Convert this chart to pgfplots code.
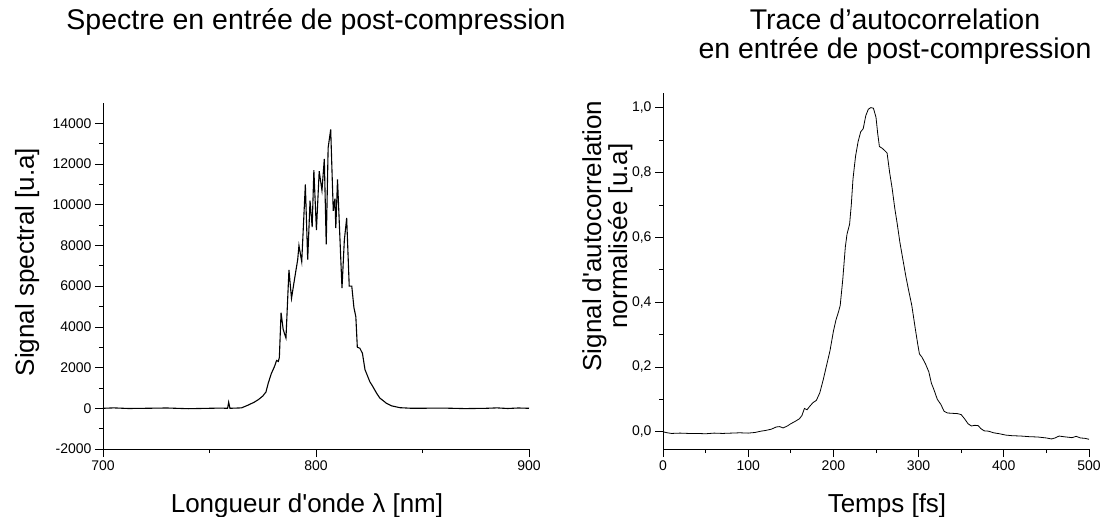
\documentclass[border=0pt]{standalone}
\usepackage{fontspec}
\setmainfont{Liberation Sans}
\usepackage{pgfplots}
\pgfplotsset{compat=1.18}

\pgfplotsset{
  refstyle/.style={
    scale only axis,
    axis lines=left,
    axis line style={-, line width=0.8pt},
    tick align=outside,
    major tick length=8pt,
    minor tick length=4pt,
    every tick/.style={black, line width=0.7pt},
    tick label style={font=\fontsize{14}{14}\selectfont},
    /pgf/number format/assume math mode=true,
    scaled ticks=false,
    label style={font=\fontsize{26}{26}\selectfont},
    title style={font=\fontsize{28.5}{29}\selectfont},
  }
}

\begin{document}
\begin{tikzpicture}[x=1pt,y=1pt]
\useasboundingbox (0,0) rectangle (1104,517);

% spectre
\begin{axis}[refstyle,
  at={(103pt,68pt)}, anchor=south west,
  width=426pt, height=346pt,
  xmin=700, xmax=900, ymin=-2000, ymax=15000,
  xtick={700,800,900}, minor xtick={750,850},
  ytick={-2000,0,2000,4000,6000,8000,10000,12000,14000},
  minor ytick={-1000,1000,3000,5000,7000,9000,11000,13000},
  yticklabel style={/pgf/number format/.cd, fixed, 1000 sep={}},
  xlabel={Longueur d\textquotesingle onde λ [nm]},
  xlabel style={at={([xshift=-9pt,yshift=-63pt]axis description cs:0.5,0)}, anchor=base},
  ylabel={Signal spectral [u.a]},
  ylabel style={at={([xshift=-69pt,yshift=14pt]axis description cs:0,0.5)}, anchor=base},
  title={Spectre en entrée de post-compression},
  title style={at={([yshift=67.7pt]axis description cs:0.5,1)}, anchor=base},
]
\addplot[black, line width=1.1pt] coordinates {
(700,0)(705,20)(712,-10)(720,0)(730,15)(740,-20)(750,0)(755,10)(758.5,0)(759,300)(759.6,0)
(765,20)(768,150)(771,300)(773,430)(775,600)(776.5,800)(777.6,1240)(779,1700)(780.5,2050)
(781.5,2350)(782.3,2300)(782.8,2500)(783.6,4700)(784.6,3870)(785.9,3450)(787.3,6800)
(788.5,5400)(790,6400)(791.4,7300)(792,8000)(793.3,7200)(795,11000)(796.1,7300)(797.2,10200)
(798.2,8900)(799,11700)(800.2,8750)(801.5,11650)(802.8,10700)(803.9,12250)(804.8,8050)
(805.7,12800)(806.9,13700)(808.1,9700)(808.9,10300)(809.3,8850)(810.1,11250)(812.2,5900)
(813.3,8250)(814.4,9350)(815.6,6000)(816.8,6000)(817.8,4950)(818.7,4500)(819.4,3000)
(820.6,2950)(821.8,2700)(823,1900)(825.3,1300)(826.5,1100)(828.4,750)(830,500)(831.6,370)
(833,250)(835.5,120)(839.4,30)(845,0)(860,10)(870,-15)(880,0)(885,20)(890,-10)(895,15)(900,0)
};
\end{axis}

% autocorrelation
\begin{axis}[refstyle,
  at={(663pt,68pt)}, anchor=south west,
  width=426pt, height=356pt,
  xmin=0, xmax=500, ymin=-0.053, ymax=1.045,
  xtick={0,100,200,300,400,500}, minor xtick={50,150,250,350,450},
  ytick={0,0.2,0.4,0.6,0.8,1.0}, minor ytick={0.1,0.3,0.5,0.7,0.9},
  yticklabel style={/pgf/number format/.cd, use comma, fixed, fixed zerofill, precision=1},
  xlabel={Temps [fs]},
  xlabel style={at={([xshift=11pt,yshift=-63pt]axis description cs:0.5,0)}, anchor=base},
  ylabel={Signal d\textquotesingle autocorrelation\\normalisée [u.a]},
  ylabel style={align=center, inner sep=0pt, at={([xshift=-81pt,yshift=35pt]axis description cs:0,0.5)}, anchor=north},
  title={Trace d’autocorrelation\\en entrée de post-compression},
  title style={align=center, inner sep=0pt, at={([xshift=19pt,yshift=78pt]axis description cs:0.5,1)}, anchor=north},
]
\addplot[black, line width=0.8pt] coordinates {
(0,0.0)(5,-0.003)(10,-0.005)(20,-0.004)(30,-0.005)(40,-0.005)(50,-0.006)(60,-0.004)(70,-0.005)
(80,-0.004)(90,-0.003)(100,-0.004)(108,-0.002)(115,0.002)(120,0.004)(127,0.008)(133,0.015)
(137,0.016)(141,0.012)(146,0.018)(150,0.025)(155,0.032)(160,0.04)(163,0.05)(166,0.072)
(169,0.068)(172,0.078)(176,0.09)(180,0.097)(184,0.12)(188,0.16)(192,0.205)(196,0.25)(200,0.31)
(203,0.345)(206,0.37)(208,0.39)(211,0.47)(214,0.57)(216,0.61)(219,0.64)(221,0.7)(223,0.78)
(226,0.85)(229,0.895)(232,0.925)(235,0.935)(238,0.975)(241,0.995)(244,1.0)(247,0.998)
(250,0.97)(252,0.92)(254,0.88)(257,0.875)(260,0.868)(263,0.86)(266,0.8)(269,0.75)(272,0.69)
(275,0.64)(278,0.585)(281,0.54)(285,0.48)(288,0.44)(292,0.39)(296,0.32)(299,0.27)(301,0.24)
(304,0.23)(308,0.21)(312,0.185)(315,0.15)(318,0.13)(322,0.1)(326,0.085)(330,0.063)(334,0.058)
(340,0.057)(346,0.056)(350,0.053)(354,0.04)(358,0.025)(362,0.018)(366,0.02)(370,0.019)
(373,0.01)(377,0.003)(382,0.002)(388,-0.003)(395,-0.006)(402,-0.01)(410,-0.012)(420,-0.013)
(430,-0.015)(440,-0.016)(450,-0.019)(456,-0.022)(460,-0.019)(465,-0.013)(470,-0.015)
(480,-0.018)(485,-0.014)(490,-0.019)(495,-0.02)(500,-0.023)
};
\end{axis}
\end{tikzpicture}
\end{document}
